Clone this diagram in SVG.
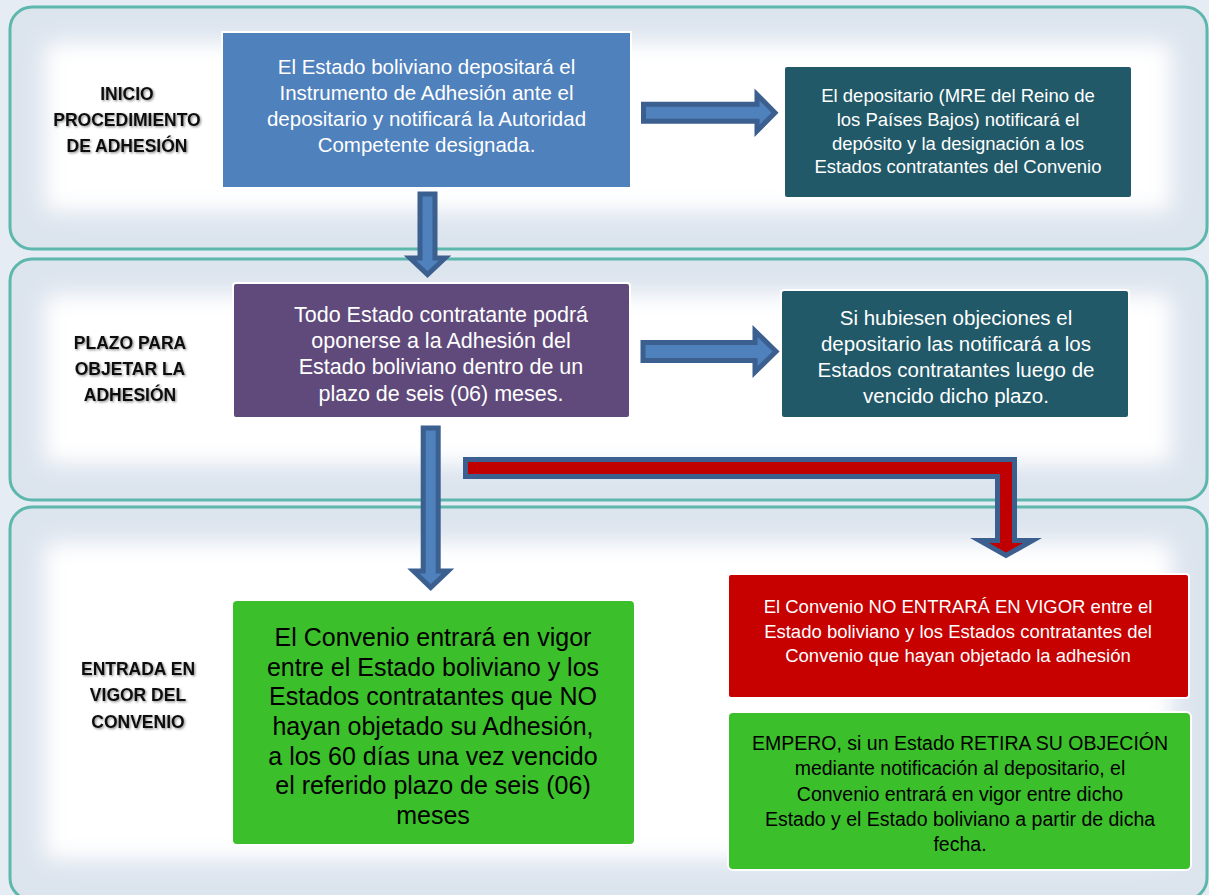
<svg xmlns="http://www.w3.org/2000/svg" width="1209" height="895" viewBox="0 0 1209 895">
<style>
.panel{fill:#dce4ee;stroke:none}
.pborder{fill:none;stroke:#5db7ad;stroke-width:3}
.glow{fill:#ffffff}
.box{stroke:#ffffff;stroke-width:2}
.lbl{font-family:"Liberation Sans",Arial,sans-serif;font-weight:bold;font-size:17.5px;fill:#111;text-anchor:middle}
.t{font-family:"Liberation Sans",Arial,sans-serif;text-anchor:middle}
.w{fill:#ffffff}
.k{fill:#000000}
.arr{fill:#4f81bd;stroke:#3b5f8f;stroke-width:5;stroke-linejoin:miter;stroke-miterlimit:10}
.arrR{fill:#c00000;stroke:#3b5f8f;stroke-width:5;stroke-linejoin:miter;stroke-miterlimit:10}
</style>
<defs>
<filter id="blur" x="-10%" y="-30%" width="120%" height="160%"><feGaussianBlur stdDeviation="11"/></filter>
<filter id="tsh" x="-10%" y="-30%" width="130%" height="160%"><feDropShadow dx="1.2" dy="1.2" stdDeviation="1" flood-color="#000" flood-opacity="0.45"/></filter>
<clipPath id="c1"><rect x="10" y="7" width="1197" height="242" rx="22"/></clipPath>
<clipPath id="c2"><rect x="10" y="259" width="1197" height="241" rx="22"/></clipPath>
<clipPath id="c3"><rect x="10" y="507" width="1197" height="393" rx="22"/></clipPath>
</defs>
<rect x="0" y="0" width="1209" height="895" fill="#e6ecf4"/>
<g id="panels">
<g clip-path="url(#c1)"><rect class="panel" x="10" y="7" width="1197" height="242"/><rect class="glow" x="44" y="42" width="1128" height="170" rx="10" filter="url(#blur)"/></g>
<rect class="pborder" x="10" y="7" width="1197" height="242" rx="22"/>
<g clip-path="url(#c2)"><rect class="panel" x="10" y="259" width="1197" height="241"/><rect class="glow" x="44" y="294" width="1128" height="170" rx="10" filter="url(#blur)"/></g>
<rect class="pborder" x="10" y="259" width="1197" height="241" rx="22"/>
<g clip-path="url(#c3)"><rect class="panel" x="10" y="507" width="1197" height="393"/><rect class="glow" x="44" y="542" width="1128" height="318" rx="10" filter="url(#blur)"/></g>
<rect class="pborder" x="10" y="507" width="1197" height="393" rx="22"/>
</g>
<g id="label-inicio" filter="url(#tsh)">
<text class="lbl"><tspan x="127" y="100">INICIO</tspan><tspan x="127" y="126">PROCEDIMIENTO</tspan><tspan x="127" y="152">DE ADHESIÓN</tspan></text>
</g>
<g id="label-plazo" filter="url(#tsh)">
<text class="lbl"><tspan x="130" y="349">PLAZO PARA</tspan><tspan x="130" y="375">OBJETAR LA</tspan><tspan x="130" y="401">ADHESIÓN</tspan></text>
</g>
<g id="label-entrada" filter="url(#tsh)">
<text class="lbl"><tspan x="138" y="675">ENTRADA EN</tspan><tspan x="138" y="701">VIGOR DEL</tspan><tspan x="138" y="728">CONVENIO</tspan></text>
</g>
<g id="connectors">
<polygon class="arr" points="643.5,104.2 757,104.2 757,94.5 775,112.7 757,131 757,121.2 643.5,121.2"/>
<polygon class="arr" points="643,342.5 755,342.5 755,331 776,351.5 755,372 755,360.5 643,360.5"/>
<polygon class="arr" points="420,194 435,194 435,258 445,258 427.5,274.5 410,258 420,258"/>
<polygon class="arr" points="423.2,428 438.2,428 438.2,571 448,571 430.7,587.5 413.5,571 423.2,571"/>
<polygon class="arrR" points="465.5,459.5 1014.5,459.5 1014.5,540.5 1032.5,540.5 1006,555.5 979.5,540.5 997.5,540.5 997.5,476.5 465.5,476.5"/>
</g>
<g id="node-deposito">
<rect class="box" x="222" y="32" width="409" height="156" fill="#4f81bd"/>
<text class="t w" font-size="20.5"><tspan x="426.5" y="73.5">El Estado boliviano depositará el</tspan><tspan x="426.5" y="99.5">Instrumento de Adhesión ante el</tspan><tspan x="426.5" y="125.5">depositario y notificará la Autoridad</tspan><tspan x="426.5" y="151.5">Competente designada.</tspan></text>
</g>
<g id="node-notifica">
<rect class="box" x="784" y="66" width="348" height="132" rx="3" fill="#215968"/>
<text class="t w" font-size="18.5"><tspan x="958" y="101.5">El depositario (MRE del Reino de</tspan><tspan x="958" y="125.5">los Países Bajos) notificará el</tspan><tspan x="958" y="149.5">depósito y la designación a los</tspan><tspan x="958" y="173">Estados contratantes del Convenio</tspan></text>
</g>
<g id="node-oponerse">
<rect class="box" x="233" y="283" width="397" height="135" rx="3" fill="#604a7b"/>
<text class="t w" font-size="21.5"><tspan x="441" y="322">Todo Estado contratante podrá</tspan><tspan x="441" y="348">oponerse a la Adhesión del</tspan><tspan x="441" y="374">Estado boliviano dentro de un</tspan><tspan x="441" y="401">plazo de seis (06) meses.</tspan></text>
</g>
<g id="node-objeciones">
<rect class="box" x="781" y="290" width="348" height="128" rx="3" fill="#215968"/>
<text class="t w" font-size="20.5"><tspan x="956" y="325">Si hubiesen objeciones el</tspan><tspan x="956" y="351">depositario las notificará a los</tspan><tspan x="956" y="377">Estados contratantes luego de</tspan><tspan x="956" y="403">vencido dicho plazo.</tspan></text>
</g>
<g id="node-vigor">
<rect class="box" x="232" y="600" width="403" height="245" rx="5" fill="#3bbf2a"/>
<text class="t k" font-size="25"><tspan x="433" y="646">El Convenio entrará en vigor</tspan><tspan x="433" y="675.7">entre el Estado boliviano y los</tspan><tspan x="433" y="705.3">Estados contratantes que NO</tspan><tspan x="433" y="735">hayan objetado su Adhesión,</tspan><tspan x="433" y="764.7">a los 60 días una vez vencido</tspan><tspan x="433" y="794.3">el referido plazo de seis (06)</tspan><tspan x="433" y="824">meses</tspan></text>
</g>
<g id="node-no-vigor">
<rect class="box" x="728" y="574" width="461" height="124" rx="3" fill="#c70000"/>
<text class="t w" font-size="18.5"><tspan x="958" y="612.5">El Convenio NO ENTRARÁ EN VIGOR entre el</tspan><tspan x="958" y="637.5">Estado boliviano y los Estados contratantes del</tspan><tspan x="958" y="661.5">Convenio que hayan objetado la adhesión</tspan></text>
</g>
<g id="node-empero">
<rect class="box" x="728" y="712" width="463" height="158" rx="5" fill="#3bbf2a"/>
<text class="t k" font-size="19.5"><tspan x="960" y="750">EMPERO, si un Estado RETIRA SU OBJECIÓN</tspan><tspan x="960" y="775">mediante notificación al depositario, el</tspan><tspan x="960" y="801">Convenio entrará en vigor entre dicho</tspan><tspan x="960" y="826">Estado y el Estado boliviano a partir de dicha</tspan><tspan x="960" y="851">fecha.</tspan></text>
</g>
</svg>
